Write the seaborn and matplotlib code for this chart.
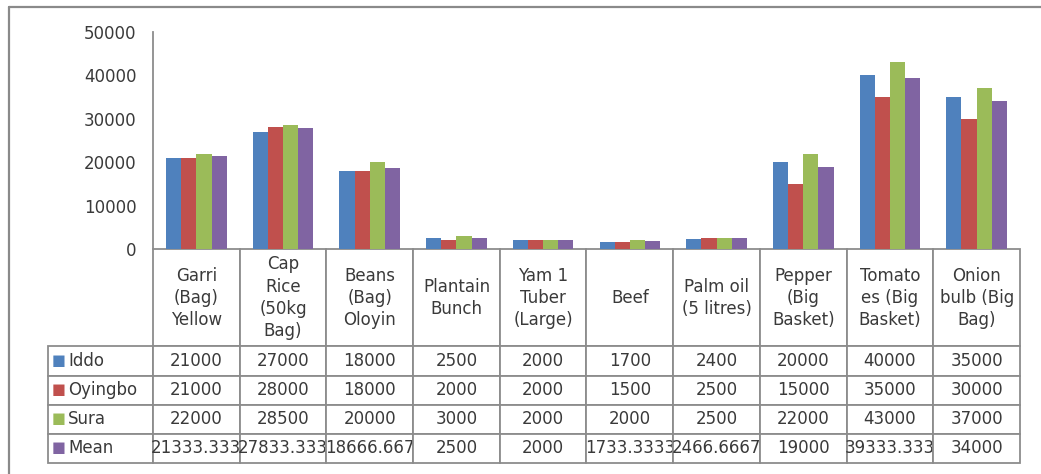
import matplotlib
matplotlib.use('Agg')
import matplotlib.pyplot as plt
import numpy as np
import pandas as pd
import seaborn as sns
from matplotlib.lines import Line2D

# prices of food items in three markets (and the mean)
items = ['Garri\n(Bag)\nYellow', 'Cap\nRice\n(50kg\nBag)', 'Beans\n(Bag)\nOloyin',
         'Plantain\nBunch', 'Yam 1\nTuber\n(Large)', 'Beef', 'Palm oil\n(5 litres)',
         'Pepper\n(Big\nBasket)', 'Tomato\nes (Big\nBasket)', 'Onion\nbulb (Big\nBag)']
markets = ['Iddo', 'Oyingbo', 'Sura', 'Mean']
iddo = [21000, 27000, 18000, 2500, 2000, 1700, 2400, 20000, 40000, 35000]
oyingbo = [21000, 28000, 18000, 2000, 2000, 1500, 2500, 15000, 35000, 30000]
sura = [22000, 28500, 20000, 3000, 2000, 2000, 2500, 22000, 43000, 37000]
mean = [21333.333, 27833.333, 18666.667, 2500, 2000, 1733.3333, 2466.6667, 19000, 39333.333, 34000]
colors = ['#4F81BD', '#C0504D', '#9BBB59', '#8064A2']
yticks = [0, 10000, 20000, 30000, 40000, 50000]

series = [iddo, oyingbo, sura, mean]
df = pd.DataFrame({
    'item': [it for s in series for it in items],
    'market': [m for m, s in zip(markets, series) for _ in s],
    'price': [v for s in series for v in s],
})

sns.set_style('white')
plt.rcParams['font.family'] = ['DejaVu Sans']
txt_col = '#3a3a3a'
grid_col = '#8c8c8c'

W, H = 1041, 474
fig = plt.figure(figsize=(W / 100, H / 100), dpi=100)
ax_l, ax_r, ax_t, ax_b = 153, 1020, 32, 249
ax = fig.add_axes([ax_l / W, 1 - ax_b / H, (ax_r - ax_l) / W, (ax_b - ax_t) / H])

sns.barplot(data=df, x='item', y='price', hue='market', order=items, hue_order=markets,
            palette=colors, width=0.7, ax=ax, legend=False, saturation=1, linewidth=0)
ax.set_xlim(-0.5, len(items) - 0.5)
ax.set_ylim(0, 50000)
ax.set_yticks(yticks)
ax.set_yticklabels([str(t) for t in yticks], fontsize=12, color=txt_col)
ax.tick_params(axis='y', length=0, pad=12)
ax.set_xticks([])
ax.set_xlabel('')
ax.set_ylabel('')
for s in ['top', 'right', 'bottom']:
    ax.spines[s].set_visible(False)
ax.spines['left'].set_color(grid_col)
ax.spines['left'].set_linewidth(1.3)

# data table under the chart
ax_w = ax_r - ax_l
ax_h = ax_b - ax_t
tab_left, tab_bottom = 48, 463
hdr_h, row_h = 97, 29
lab_w, col_w = 105, ax_w / len(items)

def fmt(v):
    return f'{v:.10g}'

rows = [[m] + [fmt(v) for v in s] for m, s in zip(markets, series)]
tab = ax.table(cellText=rows, colLabels=[''] + items,
               colWidths=[lab_w] + [col_w] * len(items), cellLoc='center',
               bbox=[(tab_left - ax_l) / ax_w, -(tab_bottom - ax_b) / ax_h,
                     (ax_r - tab_left) / ax_w, (tab_bottom - ax_b) / ax_h])
tab.auto_set_font_size(False)
tab.set_fontsize(12)
for (r, c), cell in tab.get_celld().items():
    cell.set_edgecolor(grid_col)
    cell.set_linewidth(1.3)
    cell.get_text().set_color(txt_col)
    cell.set_height(hdr_h if r == 0 else row_h)
    if r == 0:
        cell.get_text().set_linespacing(1.3)
        if c == 0:
            cell.visible_edges = ''
    elif c == 0:
        cell._loc = 'left'
        cell.PAD = 0.19
        cell.get_text().set_ha('left')

# legend keys in the first column
for i, col in enumerate(colors):
    yc = -(hdr_h + row_h * (i + 0.5)) / ax_h
    ax.text((52 - ax_l) / ax_w, yc, '\u25a0', color=col, fontsize=10.5,
            ha='left', va='center', transform=ax.transAxes, clip_on=False)

# outer chart border (top and left visible in the crop)
fig.add_artist(Line2D([9 / W, 9 / W], [0, 1 - 7 / H], color='#8a8a8a', lw=1.6,
                      transform=fig.transFigure))
fig.add_artist(Line2D([9 / W, 1], [1 - 7 / H, 1 - 7 / H], color='#8a8a8a', lw=1.6,
                      transform=fig.transFigure))

fig.savefig('out.png', dpi=100, facecolor='white')
